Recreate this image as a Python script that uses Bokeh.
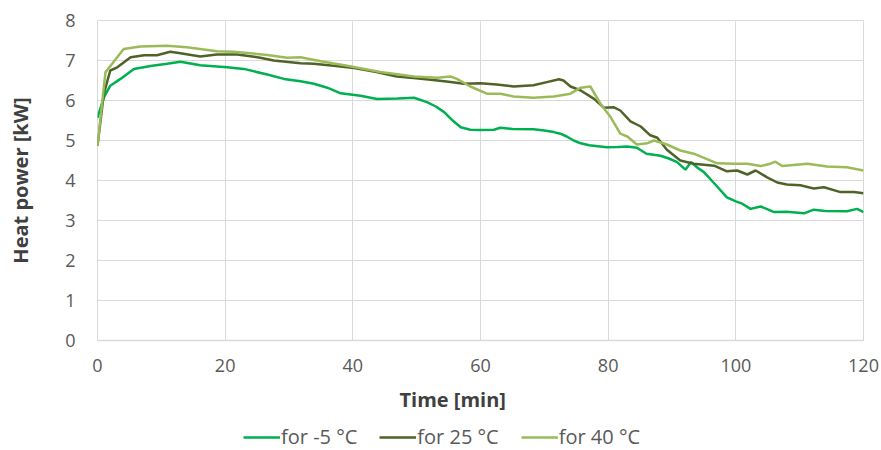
from bokeh.plotting import figure
from bokeh.layouts import column
from bokeh.models import Legend, LegendItem, Title, Range1d, FixedTicker
from bokeh.embed import file_html
from bokeh.resources import INLINE

# ---- data ----
t_m5 = [0, 1, 2, 3.6, 5.7, 8.3, 10.9, 13, 16.1, 20.3, 22.9, 26.6, 29.2, 31.8, 33.9, 36, 38.1,
        41.2, 43.8, 47, 49.6, 51.6, 53, 54.3, 55.5, 56.9, 58.4, 60, 62.1, 63.1, 65, 68.3, 70,
        71.5, 72.5, 73.5, 74.6, 75.7, 77, 79.8, 81.5, 83, 84.5, 86, 88.2, 89.5, 90.8, 92.1, 93,
        94, 95, 96.5, 98.6, 100, 101, 102.3, 103.9, 105, 106, 108, 110.7, 112.2, 114, 117.4,
        119, 120]
p_m5 = [5.57, 6.08, 6.37, 6.54, 6.79, 6.86, 6.92, 6.97, 6.88, 6.83, 6.79, 6.65, 6.54, 6.48,
        6.42, 6.32, 6.18, 6.12, 6.04, 6.05, 6.07, 5.96, 5.85, 5.71, 5.52, 5.33, 5.27, 5.26,
        5.27, 5.32, 5.29, 5.28, 5.25, 5.21, 5.17, 5.1, 5.0, 4.93, 4.88, 4.83, 4.84, 4.85, 4.82,
        4.67, 4.62, 4.55, 4.46, 4.27, 4.46, 4.32, 4.21, 3.95, 3.58, 3.48, 3.42, 3.29, 3.35,
        3.28, 3.21, 3.22, 3.18, 3.27, 3.24, 3.23, 3.29, 3.21]

t_25 = [0, 1, 2, 3.1, 5.2, 7.3, 9.3, 11.4, 13, 16.1, 18.7, 21.9, 25.5, 27.6, 31.8, 33.9, 37,
        40.2, 43.5, 46.9, 49.5, 52.2, 55, 57.4, 60, 62.5, 65.2, 68.3, 70.4, 72.3, 73, 74.1,
        75.7, 77.8, 79.3, 80.9, 81.9, 83.5, 85.1, 86.6, 87.7, 89.2, 91.3, 93.4, 96.6, 98.6,
        100.2, 101.8, 103.1, 104.9, 106.5, 108, 110.1, 112.2, 113.8, 116.4, 118.5, 120]
p_25 = [4.87, 6.17, 6.75, 6.83, 7.08, 7.13, 7.13, 7.22, 7.18, 7.1, 7.15, 7.15, 7.07, 7.0, 6.93,
        6.92, 6.87, 6.81, 6.72, 6.6, 6.56, 6.52, 6.47, 6.42, 6.43, 6.4, 6.35, 6.38, 6.46, 6.53,
        6.5, 6.35, 6.25, 6.04, 5.82, 5.83, 5.75, 5.48, 5.35, 5.13, 5.07, 4.77, 4.5, 4.42, 4.37,
        4.23, 4.25, 4.15, 4.25, 4.08, 3.95, 3.9, 3.88, 3.8, 3.83, 3.71, 3.71, 3.68]

t_40 = [0, 1.25, 2.3, 4.1, 6.7, 10.9, 14, 18.7, 21.3, 26.6, 29.7, 31.8, 35, 39.1, 44.3, 49.6,
        53.2, 55.3, 56.3, 58.4, 61, 63.1, 65.2, 68.3, 71.5, 74.1, 75.7, 77.2, 78.8, 80.4, 81.9,
        83, 84.5, 86.1, 87.2, 89.2, 91.3, 93.4, 97.1, 99.7, 101.8, 103.9, 105.4, 106.2, 107.3,
        111.2, 114.3, 117.4, 120]
p_40 = [4.87, 6.71, 6.92, 7.29, 7.35, 7.37, 7.33, 7.23, 7.22, 7.14, 7.07, 7.08, 6.98, 6.87,
        6.71, 6.6, 6.57, 6.6, 6.54, 6.35, 6.17, 6.17, 6.1, 6.07, 6.1, 6.17, 6.32, 6.35, 5.92,
        5.58, 5.17, 5.1, 4.9, 4.93, 5.0, 4.9, 4.75, 4.67, 4.43, 4.42, 4.42, 4.36, 4.42, 4.47,
        4.36, 4.42, 4.35, 4.33, 4.25]

series_labels = ["for -5 °C", "for 25 °C", "for 40 °C"]
series_colors = ["#00b050", "#4f6228", "#9bbb59"]
x_ticks = [0, 20, 40, 60, 80, 100, 120]
y_ticks = [0, 1, 2, 3, 4, 5, 6, 7, 8]

FONT = "Open Sans"
TXT = "#595959"
GRID = "#d9d9d9"
series = [(t_m5, p_m5), (t_25, p_25), (t_40, p_40)]

# ---------------- main chart ----------------
p = figure(width=881, height=421, output_backend="svg", toolbar_location=None,
           x_range=Range1d(0, 120), y_range=Range1d(0, 8),
           min_border_left=97, min_border_right=18, min_border_top=20, min_border_bottom=81)
p.outline_line_color = GRID
p.background_fill_color = "white"
p.border_fill_color = "white"

p.xaxis.ticker = FixedTicker(ticks=x_ticks)
p.yaxis.ticker = FixedTicker(ticks=y_ticks)
for ax in (p.xaxis[0], p.yaxis[0]):
    ax.major_tick_line_color = None
    ax.minor_tick_line_color = None
    ax.major_label_text_font = FONT
    ax.major_label_text_font_size = "18px"
    ax.major_label_text_color = TXT
p.xaxis.axis_line_color = GRID
p.xaxis.axis_line_width = 1.5
p.yaxis.axis_line_color = None
p.xaxis.major_label_standoff = 12
p.yaxis.major_label_standoff = 16

p.yaxis.axis_label = "Heat power [kW]"
p.yaxis.axis_label_text_font = FONT
p.yaxis.axis_label_text_font_style = "bold"
p.yaxis.axis_label_text_font_size = "20px"
p.yaxis.axis_label_text_color = "#404040"
p.yaxis.axis_label_standoff = 28

p.xgrid.grid_line_color = GRID
p.ygrid.grid_line_color = GRID

for (tx, py), col in zip(series, series_colors):
    p.line(tx, py, line_color=col, line_width=2.5)

xlabel = Title(text="Time [min]", align="left", offset=302, standoff=18,
               text_font=FONT, text_font_style="bold", text_font_size="20px",
               text_color="#404040")
p.add_layout(xlabel, "below")

# ---------------- legend strip (centred on the whole chart, like the reference) ----------------
lg = figure(width=881, height=29, output_backend="svg", toolbar_location=None,
            x_range=Range1d(0, 120), y_range=Range1d(100, 101),
            min_border=0)
lg.axis.visible = False
lg.grid.visible = False
lg.outline_line_color = None
lg.border_fill_color = "white"
lg_renderers = [lg.line(tx, py, line_color=col, line_width=2.5)
                for (tx, py), col in zip(series, series_colors)]
legend = Legend(items=[LegendItem(label=lab, renderers=[r])
                       for lab, r in zip(series_labels, lg_renderers)],
                orientation="horizontal", location=(146, 0),
                label_text_font=FONT, label_text_font_size="20px", label_text_color=TXT,
                glyph_width=37, glyph_height=20, label_height=20, label_standoff=1,
                spacing=22, padding=0, margin=0,
                background_fill_alpha=0, border_line_color=None)
lg.add_layout(legend, "center")

layout = column(p, lg, spacing=0)
open("out.html", "w").write(file_html(layout, INLINE))
